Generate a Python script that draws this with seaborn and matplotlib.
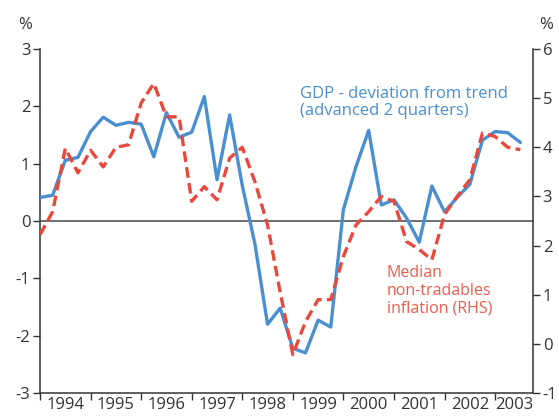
import numpy as np
import pandas as pd
import matplotlib
matplotlib.use("Agg")
import matplotlib.pyplot as plt
import seaborn as sns

# quarterly data, 1994 Q1 to 2003 Q3
start_year = 1994
gdp_gap = [0.41, 0.45, 1.06, 1.11, 1.56, 1.81, 1.67, 1.72, 1.69, 1.12,
           1.89, 1.46, 1.55, 2.17, 0.72, 1.85, 0.62, -0.40, -1.80, -1.52,
           -2.22, -2.30, -1.73, -1.85, 0.20, 0.95, 1.58, 0.28, 0.37, 0.05,
           -0.37, 0.61, 0.16, 0.41, 0.64, 1.41, 1.56, 1.54, 1.37]
nontradables = [2.22, 2.69, 3.98, 3.48, 3.94, 3.60, 4.00, 4.05, 4.90, 5.30,
                4.62, 4.62, 2.90, 3.20, 2.93, 3.78, 4.00, 3.30, 2.42, 1.05,
                -0.22, 0.45, 0.90, 0.90, 1.78, 2.42, 2.69, 3.00, 2.90, 2.08,
                1.92, 1.71, 2.63, 3.00, 3.34, 4.29, 4.22, 4.00, 3.95]
years = list(range(1994, 2004))
year_labels = [str(y) for y in years]

BLUE = "#4a8fd0"
RED = "#e8493c"
RED_TEXT = "#ee5b4d"
GREY = "#333333"

n = len(gdp_gap)
df = pd.DataFrame({
    "t": start_year + np.arange(n) / 4,
    "gdp": gdp_gap,
    "nt": nontradables,
})

sns.set_style("ticks")
plt.rcParams["font.family"] = ["Open Sans", "DejaVu Sans"]
plt.rcParams["axes.unicode_minus"] = False

fig = plt.figure(figsize=(5.59, 4.16), dpi=100)
ax = fig.add_axes([0.0716, 0.0553, 0.8819, 0.8269])
ax2 = ax.twinx()

xmax = start_year + n / 4

ax.axhline(0, color="#555555", lw=1.2, zorder=1)
sns.lineplot(data=df, x="t", y="gdp", ax=ax, color=BLUE, lw=2.4, zorder=3)
sns.lineplot(data=df, x="t", y="nt", ax=ax2, color=RED, lw=2.4,
             dashes=False, zorder=3)
ax2.lines[-1].set_dashes([3.2, 1.6])

ax.set_xlim(start_year, xmax)
ax.set_ylim(-3, 3)
ax2.set_ylim(-1, 6)
ax.set_yticks(range(-3, 4))
ax2.set_yticks(range(-1, 7))

# year boundaries as ticks, labels centred in each year
ax.set_xticks(years)
ax.set_xticklabels([])
mids = [y + 0.5 for y in years[:-1]] + [(years[-1] + xmax) / 2]
ax.set_xticks(mids, minor=True)
ax.set_xticklabels(year_labels, minor=True)
ax.tick_params(axis="x", which="minor", length=0, pad=3)
ax.tick_params(axis="x", which="major", length=5, width=1, color=GREY)

for a in (ax, ax2):
    a.set_xlabel("")
    a.set_ylabel("")
    a.tick_params(axis="both", which="both", labelsize=12, labelcolor=GREY)
    a.tick_params(axis="y", length=5, width=1, color=GREY, pad=2)
    for s in a.spines.values():
        s.set_color(GREY)
        s.set_linewidth(1.1)
    a.spines["top"].set_visible(False)
ax.spines["right"].set_visible(False)
ax2.spines["left"].set_visible(False)
ax2.spines["bottom"].set_visible(False)
ax2.spines["right"].set_visible(True)

fig.text(25 / 559, 1 - 25 / 416, "%", ha="center", va="center", fontsize=12, color=GREY)
fig.text(546 / 559, 1 - 25 / 416, "%", ha="center", va="center", fontsize=12, color=GREY)

ax.text(1999.14, 2.06, "GDP - deviation from trend\n(advanced 2 quarters)",
        color=BLUE, fontsize=12, ha="left", va="center", linespacing=1.1)
ax2.text(2000.86, 1.08, "Median\nnon-tradables\ninflation (RHS)",
         color=RED_TEXT, fontsize=11.5, ha="left", va="center", linespacing=1.15)

fig.savefig("out.png", dpi=100)
